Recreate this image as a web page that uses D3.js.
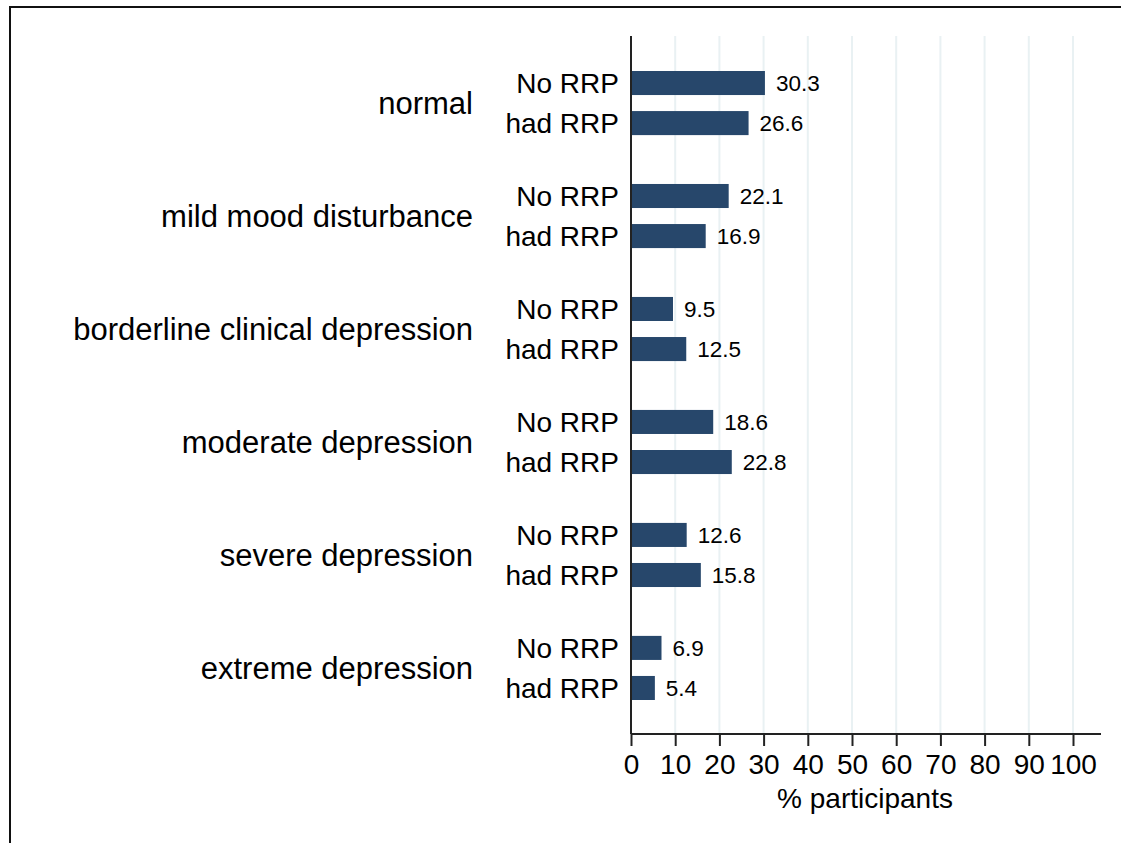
<!DOCTYPE html>
<html>
<head>
<meta charset="utf-8">
<script src="https://cdn.jsdelivr.net/npm/d3@7"></script>
<style>
  body { margin: 0; background: #fff; }
  text { font-family: "Liberation Sans", Arial, Helvetica, sans-serif; fill: #000; }
</style>
</head>
<body>
<div id="chart"></div>
<script>
// chart size = browser window
const width = 1121;
const height = 843;

// data
const categories = ["normal", "mild mood disturbance", "borderline clinical depression",
                    "moderate depression", "severe depression", "extreme depression"];
const groups = ["No RRP", "had RRP"];
const noRRP  = [30.3, 22.1, 9.5, 18.6, 12.6, 6.9];
const hadRRP = [26.6, 16.9, 12.5, 22.8, 15.8, 5.4];
const xTicks = [0, 10, 20, 30, 40, 50, 60, 70, 80, 90, 100];

// flatten into rows for the bars
const rows = [];
categories.forEach((c, i) => {
  rows.push({cat: c, grp: groups[0], value: noRRP[i]});
  rows.push({cat: c, grp: groups[1], value: hadRRP[i]});
});

const svg = d3.select("#chart")
  .append("svg")
  .attr("width", width)
  .attr("height", height);

// outer frame (only top + left show in the crop)
svg.append("path")
  .attr("d", `M10,${height} L10,7 L${width},7`)
  .attr("fill", "none")
  .attr("stroke", "#111")
  .attr("stroke-width", 2);

// scales
const x = d3.scaleLinear().domain([0, 100]).range([631, 1073]);
const axisEnd = 1101;
const plotTop = 36, plotBottom = 734;

const yGroup = d3.scaleBand()
  .domain(categories)
  .range([71, 700])
  .paddingInner(0.4326)
  .paddingOuter(0);

const ySub = d3.scaleBand()
  .domain(groups)
  .range([0, yGroup.bandwidth()])
  .paddingInner(0.4)
  .paddingOuter(0);

// grid lines
svg.append("g")
  .selectAll("line")
  .data(xTicks.filter(d => d > 0))
  .join("line")
    .attr("x1", d => x(d))
    .attr("x2", d => x(d))
    .attr("y1", plotTop)
    .attr("y2", plotBottom)
    .attr("stroke", "#e9f1f3")
    .attr("stroke-width", 2);

// bars
svg.append("g")
  .selectAll("rect")
  .data(rows)
  .join("rect")
    .attr("x", x(0))
    .attr("y", d => yGroup(d.cat) + ySub(d.grp))
    .attr("width", d => x(d.value) - x(0))
    .attr("height", ySub.bandwidth())
    .attr("fill", "#27476b");

// value labels
svg.append("g")
  .selectAll("text")
  .data(rows)
  .join("text")
    .attr("x", d => x(d.value) + 11)
    .attr("y", d => yGroup(d.cat) + ySub(d.grp) + ySub.bandwidth() / 2)
    .attr("dy", "0.36em")
    .attr("font-size", 22.5)
    .text(d => d.value.toFixed(1));

// sub labels (No RRP / had RRP)
svg.append("g")
  .selectAll("text")
  .data(rows)
  .join("text")
    .attr("x", 619)
    .attr("y", d => yGroup(d.cat) + ySub(d.grp) + ySub.bandwidth() / 2)
    .attr("dy", "0.36em")
    .attr("text-anchor", "end")
    .attr("font-size", 28)
    .text(d => d.grp);

// category labels
svg.append("g")
  .selectAll("text")
  .data(categories)
  .join("text")
    .attr("x", 473)
    .attr("y", d => yGroup(d) + yGroup.bandwidth() / 2)
    .attr("dy", "0.36em")
    .attr("text-anchor", "end")
    .attr("font-size", 31)
    .text(d => d);

// y axis line
svg.append("line")
  .attr("x1", x(0)).attr("x2", x(0))
  .attr("y1", plotTop).attr("y2", plotBottom)
  .attr("stroke", "#222")
  .attr("stroke-width", 2);

// x axis
const xAxis = svg.append("g")
  .attr("transform", `translate(0,${plotBottom})`)
  .call(d3.axisBottom(x).tickValues(xTicks).tickSize(12).tickPadding(8).tickSizeOuter(0));

xAxis.select(".domain").remove();
xAxis.append("line")
  .attr("x1", x(0)).attr("x2", axisEnd)
  .attr("stroke", "#222")
  .attr("stroke-width", 2);
xAxis.selectAll(".tick line").attr("stroke", "#222").attr("stroke-width", 2);
xAxis.selectAll(".tick text")
  .attr("font-size", 28)
  .attr("font-family", "Liberation Sans, Arial, sans-serif")
  .attr("fill", "#000");

// x axis title
svg.append("text")
  .attr("x", x(0) + (x(100) - x(0)) / 2 + 13)
  .attr("y", 798)
  .attr("dy", "0.36em")
  .attr("text-anchor", "middle")
  .attr("font-size", 28)
  .text("% participants");
</script>
</body>
</html>
